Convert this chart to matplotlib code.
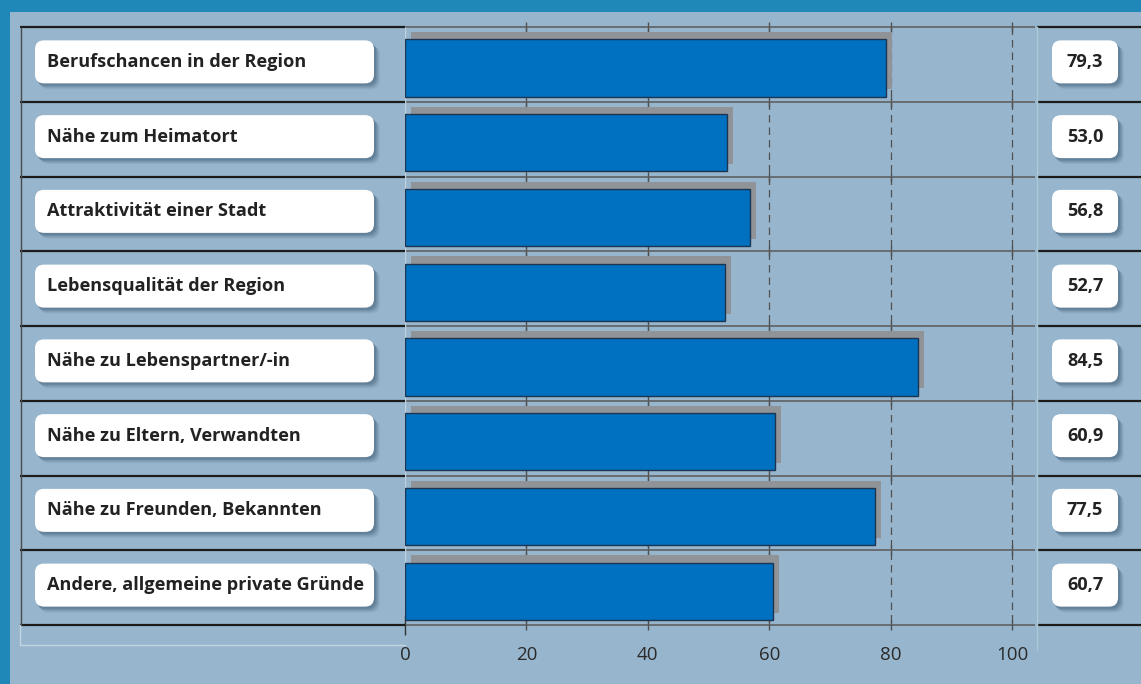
import matplotlib.pyplot as plt
import numpy as np
from matplotlib.patches import FancyBboxPatch, Rectangle
from matplotlib.lines import Line2D
from matplotlib.transforms import ScaledTranslation

gruende = [
    "Berufschancen in der Region",
    "Nähe zum Heimatort",
    "Attraktivität einer Stadt",
    "Lebensqualität der Region",
    "Nähe zu Lebenspartner/-in",
    "Nähe zu Eltern, Verwandten",
    "Nähe zu Freunden, Bekannten",
    "Andere, allgemeine private Gründe",
]
werte = [79.3, 53.0, 56.8, 52.7, 84.5, 60.9, 77.5, 60.7]
ticks = [0, 20, 40, 60, 80, 100]

plt.rcParams['font.family'] = ['Open Sans', 'DejaVu Sans']

W, H = 1141, 684
oben, unten = 27, 625          # pixel rows of the table
zeile = (unten - oben) / len(werte)
ky = 1 / zeile                 # data units per pixel in y
px_pro_prozent = 6.07

fig = plt.figure(figsize=(W / 100, H / 100), dpi=100)
fig.patch.set_facecolor('#2088b8')
fig.add_artist(Rectangle((10 / W, 0), 1 - 10 / W, (H - 12) / H, transform=fig.transFigure,
                         facecolor='#97b6cd', edgecolor='none', zorder=0))


def achse(x0, x1):
    a = fig.add_axes([x0 / W, (H - unten) / H, (x1 - x0) / W, (unten - oben) / H])
    a.set_facecolor('none')
    a.set_ylim(len(werte) - 0.5, -0.5)
    return a


def fig_linie(xs, ys, farbe, lw=1.0):
    fig.add_artist(Line2D([x / W for x in xs], [1 - y / H for y in ys], transform=fig.transFigure,
                          color=farbe, lw=lw, zorder=1))


def kasten(a, x0, breite, yc, text, ha, tx):
    h = 43 * ky
    # weicher schatten unten rechts
    for d, alpha in [(6, 0.06), (5, 0.08), (4, 0.10), (3, 0.12), (2, 0.14)]:
        s = FancyBboxPatch((x0 + d - 1, yc - h / 2 + d * ky), breite + 1, h,
                           boxstyle='round,pad=0,rounding_size=9', mutation_aspect=ky,
                           facecolor='#1e3a55', edgecolor='none', alpha=alpha, zorder=3)
        a.add_patch(s)
    b = FancyBboxPatch((x0, yc - h / 2), breite, h, boxstyle='round,pad=0,rounding_size=9',
                       mutation_aspect=ky, facecolor='white', edgecolor='none', zorder=4)
    a.add_patch(b)
    a.text(tx, yc, text, ha=ha, va='center', fontsize=13.1, fontweight='bold',
           color='#222222', zorder=5)


y = np.arange(len(werte))
grenzen = np.arange(len(werte) + 1) - 0.5

# Hilfsrahmen
fig_linie([20, 20, 405], [unten, 645, 645], '#c3d4e1')
fig_linie([1037, 1037], [oben, 650], '#b0c6d7')

# linke Spalte mit Beschriftungen
ax_lab = achse(20, 405)
ax_lab.set_xlim(20, 405)
ax_lab.axis('off')
ax_lab.hlines(grenzen, 20, 405, color='#1c1c1c', lw=1.6, clip_on=False, zorder=2)
ax_lab.vlines(20.5, -0.5, len(werte) - 0.5, color='#4a4a4a', lw=1, clip_on=False)
for i, g in enumerate(gruende):
    kasten(ax_lab, 35, 339, i - 2.5 * ky, g, 'left', 47)

# Balken
ax = achse(405, 1035)
ax.set_xlim(0, 630 / px_pro_prozent)
for s in ax.spines.values():
    s.set_visible(False)
ax.set_yticks([])
ax.set_xticks(ticks)
ax.tick_params(axis='x', length=0, pad=15, labelsize=13.5, labelcolor='#2a2a2a')

ax.vlines(ticks[1:], -0.5, len(werte) - 0.5, colors='#505050', lw=0.9,
          linestyles=(0, (6, 4)), zorder=1)
for b in grenzen:
    ax.plot(ticks[1:], [b] * 5, ls='none', marker='|', ms=7, mew=1, color='#505050',
            zorder=1, clip_on=False)
ax.hlines(grenzen, 0, 630 / px_pro_prozent, color='#5a5a5a', lw=1.1, clip_on=False, zorder=1)
ax.vlines(0, -0.5, len(werte) - 0.5, color='#c0d1de', lw=1, zorder=1)
ax.plot([0], [len(werte) - 0.5], ls='none', marker='|', ms=14, mew=1, color='#333333',
        clip_on=False, zorder=1)

schatten = ax.transData + ScaledTranslation(6 / 100, 3.6 / 100, fig.dpi_scale_trans)
versatz = ax.transData + ScaledTranslation(0, -3.6 / 100, fig.dpi_scale_trans)
ax.barh(y, werte, height=0.765, color='#909498', edgecolor='none', transform=schatten, zorder=2)
ax.barh(y, werte, height=0.765, color='#0071c0', edgecolor='#1d3550', lw=1,
        transform=versatz, zorder=3)

# rechte Spalte mit Werten
ax_val = achse(1035, 1141)
ax_val.set_xlim(1035, 1141)
ax_val.axis('off')
ax_val.hlines(grenzen, 1037, 1141, color='#1c1c1c', lw=1.6, clip_on=False, zorder=2)
for i, w in enumerate(werte):
    kasten(ax_val, 1052, 66, i - 2.5 * ky, f"{w:.1f}".replace('.', ','), 'center', 1085)

fig.savefig('out.png', dpi=100, facecolor=fig.get_facecolor())
